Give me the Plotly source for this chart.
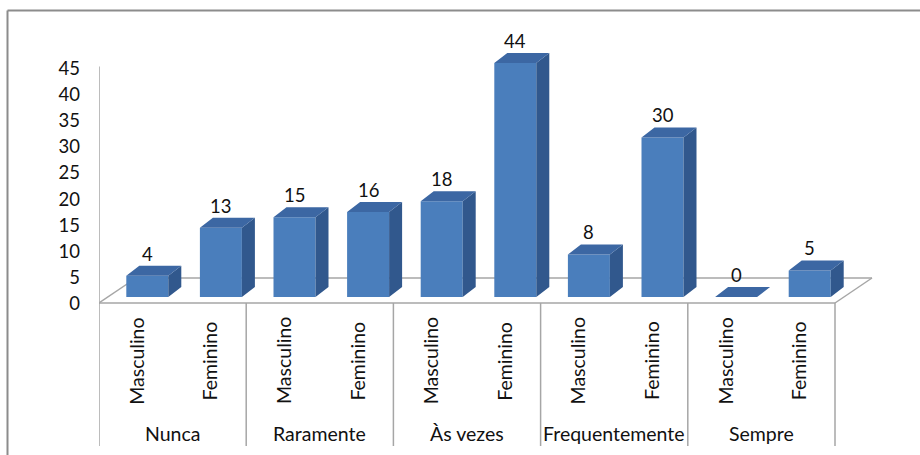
import plotly.graph_objects as go

# --- data ---------------------------------------------------------------
groups = ["Nunca", "Raramente", "Às vezes", "Frequentemente", "Sempre"]
genders = ["Masculino", "Feminino"]
masculino = [4, 15, 18, 8, 0]
feminino = [13, 16, 44, 30, 5]
y_ticks = [0, 5, 10, 15, 20, 25, 30, 35, 40, 45]

# --- geometry (pixels per axis unit) -------------------------------------
W, H = 920, 455
ML, MR = 99, 40
PX_X = 73.6            # pixels per category slot
PX_Y = 5.318           # pixels per value unit (bar axis)
BASE_PX = 297          # pixel row of the bar base
TICK_PX_Y = 5.244      # pixels per unit for the tick-label axis
TICK0_PX = 304         # pixel row of tick "0"

DX = 13 / PX_X         # depth of the 3D extrusion, x units
DY = 10 / PX_Y         # depth of the 3D extrusion, y units
BAR_W = 42 / PX_X
BAR_SHIFT = 11.5 / PX_X

FRONT = "#4A7EBC"
TOP = "#3C67A3"
SIDE = "#31588D"
LINE = "#A6A6A6"
FONT = "Lato"
TXT = "#111111"

values = []
for m, f in zip(masculino, feminino):
    values += [m, f]
n = len(values)
centers = [i + 0.5 + BAR_SHIFT for i in range(n)]

x_max = (W - ML - MR) / PX_X
y_rng = [-(H - BASE_PX) / PX_Y, BASE_PX / PX_Y]
y2_rng = [-(H - TICK0_PX) / TICK_PX_Y, TICK0_PX / TICK_PX_Y]


def py(px):
    """Pixel row -> bar-axis value."""
    return (BASE_PX - px) / PX_Y


fig = go.Figure()

# front faces
fig.add_trace(go.Bar(
    x=centers, y=values, width=BAR_W, marker=dict(color=FRONT, line=dict(width=0)),
    hoverinfo="skip", showlegend=False,
))

# top and side faces
top_x, top_y, side_x, side_y = [], [], [], []
for c, v in zip(centers, values):
    x0, x1 = c - BAR_W / 2, c + BAR_W / 2
    top_x += [x0, x1, x1 + DX, x0 + DX, x0, None]
    top_y += [v, v, v + DY, v + DY, v, None]
    if v > 0:
        side_x += [x1, x1 + DX, x1 + DX, x1, x1, None]
        side_y += [0, DY, v + DY, v, 0, None]
fig.add_trace(go.Scatter(x=side_x, y=side_y, mode="lines", fill="toself",
                         fillcolor=SIDE, line=dict(width=0, color=SIDE),
                         hoverinfo="skip", showlegend=False))
fig.add_trace(go.Scatter(x=top_x, y=top_y, mode="lines", fill="toself",
                         fillcolor=TOP, line=dict(width=0, color=TOP),
                         hoverinfo="skip", showlegend=False))

# anchor trace for the tick-label axis
fig.add_trace(go.Scatter(x=[0], y=[0], yaxis="y2", mode="markers",
                         marker=dict(opacity=0), hoverinfo="skip", showlegend=False))

shapes = []
# floor
fy0, fy1 = py(303), py(278)
fdx = 37 / PX_X
floor_pts = [(0, fy0), (n, fy0), (n + fdx, fy1), (fdx, fy1), (0, fy0)]
for (a, b), (c, d) in zip(floor_pts[:-1], floor_pts[1:]):
    shapes.append(dict(type="line", xref="x", yref="y", x0=a, y0=b, x1=c, y1=d,
                       line=dict(color=LINE, width=1.5), layer="below"))
# value axis line
shapes.append(dict(type="line", xref="x", yref="y2", x0=0, x1=0, y0=0, y1=45.3,
                   line=dict(color=LINE, width=1.5)))
# category separators
for g in range(len(groups) + 1):
    shapes.append(dict(type="line", xref="x", yref="y", x0=2 * g, x1=2 * g,
                       y0=fy0, y1=py(446), line=dict(color=LINE, width=1.5)))
# outer frame
shapes.append(dict(type="line", xref="paper", yref="paper",
                   x0=(7.5 - ML) / (W - ML - MR), x1=(W - ML) / (W - ML - MR),
                   y0=(H - 10.5) / H, y1=(H - 10.5) / H,
                   line=dict(color="#8C8C8C", width=2)))
shapes.append(dict(type="line", xref="paper", yref="paper",
                   x0=(7.5 - ML) / (W - ML - MR), x1=(7.5 - ML) / (W - ML - MR),
                   y0=(H - 10.5) / H, y1=0,
                   line=dict(color="#8C8C8C", width=2)))

annotations = []
# value labels
for c, v in zip(centers, values):
    annotations.append(dict(x=c, y=v, xref="x", yref="y", text=str(v),
                            showarrow=False, yshift=22,
                            font=dict(family=FONT, size=18.5, color=TXT)))
# gender labels
for i in range(n):
    annotations.append(dict(x=i + 0.5, y=py(361), xref="x", yref="y",
                            text=genders[i % 2], textangle=-90, showarrow=False,
                            font=dict(family=FONT, size=19.5, color=TXT)))
# group labels
for g, name in enumerate(groups):
    annotations.append(dict(x=2 * g + 1, y=py(433), xref="x", yref="y",
                            text=name, showarrow=False,
                            font=dict(family=FONT, size=19.5, color=TXT)))

fig.update_layout(
    width=W, height=H,
    margin=dict(l=ML, r=MR, t=0, b=0),
    paper_bgcolor="white", plot_bgcolor="white",
    xaxis=dict(range=[0, x_max], visible=False, fixedrange=True),
    yaxis=dict(range=y_rng, visible=False, fixedrange=True),
    yaxis2=dict(range=y2_rng, overlaying="y", side="left", tickmode="array",
                tickvals=y_ticks, ticktext=[str(t) for t in y_ticks],
                showgrid=False, zeroline=False, showline=False, ticks="",
                ticklabelstandoff=18, fixedrange=True,
                tickfont=dict(family=FONT, size=18.5, color=TXT)),
    shapes=shapes, annotations=annotations,
    font=dict(family=FONT), showlegend=False,
)

fig.write_html("out.html")
